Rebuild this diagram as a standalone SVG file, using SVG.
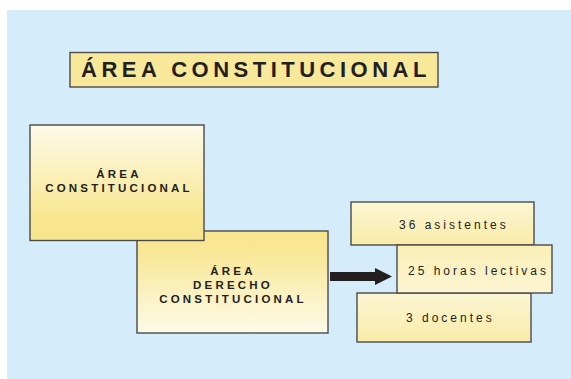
<svg xmlns="http://www.w3.org/2000/svg" width="571" height="379" viewBox="0 0 571 379">
<defs>
<linearGradient id="gDown" x1="0" y1="0" x2="0" y2="1">
<stop offset="0" stop-color="#FDFAEA"/><stop offset="0.8" stop-color="#F8E68F"/><stop offset="1" stop-color="#F8E68F"/>
</linearGradient>
<linearGradient id="gUp" x1="0" y1="0" x2="0" y2="1">
<stop offset="0" stop-color="#F8E68F"/><stop offset="0.2" stop-color="#F8E795"/><stop offset="1" stop-color="#FDFAEA"/>
</linearGradient>
<linearGradient id="gSmall" x1="0" y1="0" x2="0" y2="1">
<stop offset="0" stop-color="#FCF6D4"/><stop offset="1" stop-color="#F9EBA8"/>
</linearGradient>
<linearGradient id="gMid" x1="0" y1="0" x2="0" y2="1">
<stop offset="0" stop-color="#FAEFB6"/><stop offset="1" stop-color="#FCF5D2"/>
</linearGradient>
<marker id="ah" markerWidth="17" markerHeight="17" refX="0" refY="8.5" orient="auto" markerUnits="userSpaceOnUse">
<path d="M0,0 L17,8.5 L0,17 Z" fill="#231F20"/>
</marker>
</defs>
<style>
.box{stroke:#4A4A4A;stroke-width:1.4}
.bt{font-family:"Liberation Sans",Arial,sans-serif;font-weight:bold;font-size:11.5px;letter-spacing:3.2px;fill:#231F20;text-anchor:middle}
.st{font-family:"Liberation Sans",Arial,sans-serif;font-size:12px;letter-spacing:3px;fill:#231F20}
.tt{font-family:"Liberation Sans",Arial,sans-serif;font-weight:bold;font-size:22px;letter-spacing:4.5px;fill:#231F20}
</style>
<rect x="7" y="10" width="564" height="369" fill="#D5ECFA"/>
<g id="title">
<rect class="box" x="70" y="52.5" width="368" height="34.5" fill="#F8E89A"/>
<text class="tt" x="81" y="77">ÁREA CONSTITUCIONAL</text>
</g>
<g id="connectors">
<line x1="330" y1="276.5" x2="375" y2="276.5" stroke="#231F20" stroke-width="9" marker-end="url(#ah)"/>
</g>
<g id="derecho">
<rect class="box" x="137" y="231" width="191" height="102" fill="url(#gUp)"/>
<text class="bt" x="233" y="275">ÁREA</text>
<text class="bt" x="233" y="289">DERECHO</text>
<text class="bt" x="233" y="303">CONSTITUCIONAL</text>
</g>
<g id="area">
<rect class="box" x="30" y="125" width="174" height="115.5" fill="url(#gDown)"/>
<text class="bt" x="119" y="177.7">ÁREA</text>
<text class="bt" x="119" y="192.3">CONSTITUCIONAL</text>
</g>
<g id="asistentes">
<rect class="box" x="351" y="202" width="183" height="43" fill="url(#gSmall)"/>
<text class="st" x="399" y="229">36 asistentes</text>
</g>
<g id="docentes">
<rect class="box" x="357" y="293" width="174" height="49" fill="url(#gSmall)"/>
<text class="st" x="406" y="321.5">3 docentes</text>
</g>
<g id="horas">
<rect class="box" x="397" y="245" width="155" height="48" fill="url(#gMid)"/>
<text class="st" x="408" y="274.5">25 horas lectivas</text>
</g>
</svg>
